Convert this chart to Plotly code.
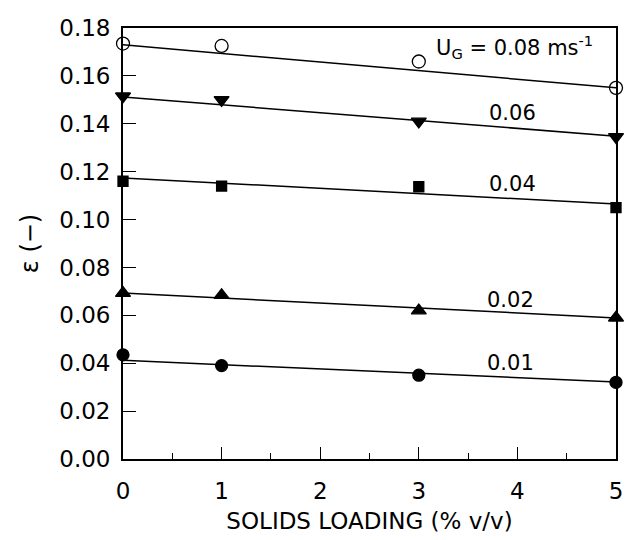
import plotly.graph_objects as go

# Solids loading (% v/v)
loading = [0, 1, 3, 5]

# Gas holdup for each superficial gas velocity U_G (m/s)
eps_008 = [0.1735, 0.1725, 0.1660, 0.1550]
eps_006 = [0.1515, 0.1500, 0.1410, 0.1345]
eps_004 = [0.1160, 0.1140, 0.1137, 0.1050]
eps_002 = [0.0693, 0.0684, 0.0620, 0.0590]
eps_001 = [0.0435, 0.0390, 0.0350, 0.0320]

# Fitted lines: value at loading 0 and at loading 5
fit_x = [0, 5]
fit_008 = [0.1730, 0.1550]
fit_006 = [0.1512, 0.1348]
fit_004 = [0.1174, 0.1065]
fit_002 = [0.0693, 0.0589]
fit_001 = [0.0412, 0.0322]

series = [
    (eps_008, fit_008, "circle-open", 13, "U<sub>G</sub> = 0.08 ms<sup>-1</sup>", 3.97, 0.1722),
    (eps_006, fit_006, "triangle-down", 13, "0.06", 3.95, 0.1445),
    (eps_004, fit_004, "square", 10, "0.04", 3.95, 0.1150),
    (eps_002, fit_002, "triangle-up", 13, "0.02", 3.93, 0.0664),
    (eps_001, fit_001, "circle", 12, "0.01", 3.93, 0.0402),
]

font = "DejaVu Sans"
fig = go.Figure()
for pts, fit, sym, size, label, lx, ly in series:
    fig.add_trace(go.Scatter(
        x=fit_x, y=fit, mode="lines",
        line=dict(color="black", width=1.5),
        showlegend=False, hoverinfo="skip",
    ))
    fig.add_trace(go.Scatter(
        x=loading, y=pts, mode="markers",
        marker=dict(symbol=sym, size=size, color="black",
                    line=dict(color="black", width=1.3)),
        cliponaxis=False, showlegend=False,
    ))
    fig.add_annotation(x=lx, y=ly, text=label, showarrow=False,
                       font=dict(family=font, size=21, color="black"))

fig.update_layout(
    width=633, height=540,
    margin=dict(l=123, r=10, t=28, b=78),
    paper_bgcolor="white", plot_bgcolor="white",
    font=dict(family=font, size=22, color="black"),
    xaxis=dict(
        range=[0, 5], tickvals=[0, 1, 2, 3, 4, 5],
        ticks="inside", ticklen=12, tickwidth=1.3, tickcolor="black",
        minor=dict(tickvals=[0.5, 1.5, 2.5, 3.5, 4.5], ticks="inside",
                   ticklen=6, tickwidth=1.2, tickcolor="black"),
        showline=True, linecolor="black", linewidth=1.8, mirror=True,
        showgrid=False, zeroline=False,
        ticklabelstandoff=10,
        title=dict(text="SOLIDS LOADING (% v/v)", standoff=10,
                   font=dict(size=23)),
        tickfont=dict(size=23),
    ),
    yaxis=dict(
        range=[0, 0.18], tickvals=[0, 0.02, 0.04, 0.06, 0.08, 0.10, 0.12,
                                   0.14, 0.16, 0.18],
        tickformat=".2f",
        ticks="inside", ticklen=13, tickwidth=1.3, tickcolor="black",
        showline=True, linecolor="black", linewidth=1.8, mirror=True,
        showgrid=False, zeroline=False,
        ticklabelstandoff=6,
        title=dict(text="ε (−)", standoff=14, font=dict(size=24)),
        tickfont=dict(size=23),
    ),
)

fig.write_html("out.html")
